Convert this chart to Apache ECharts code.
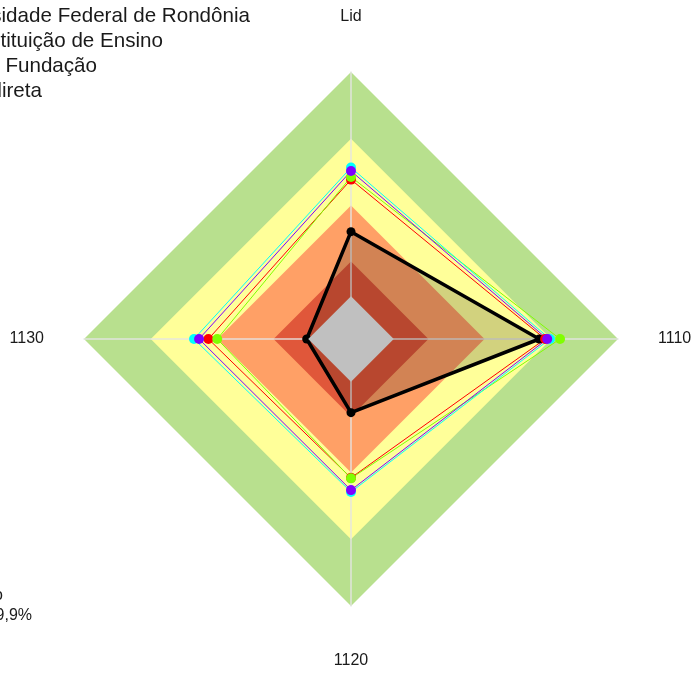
<!DOCTYPE html>
<html>
<head>
<meta charset="utf-8">
<script src="https://cdn.jsdelivr.net/npm/echarts@6/dist/echarts.min.js"></script>
<style>html,body{margin:0;padding:0;background:#fff;}#c{width:696px;height:673px;}</style>
</head>
<body>
<div id="c"></div>
<script>
// Indicators listed counterclockwise from the top (ECharts radar order)
const indicators = ['Lid', '1130', '1120', '1110'];
const axisMax = 100;

// Background bands (outer radius as % of max)
const bandLevels = [100, 75, 50, 29];
const bandColors = ['#B8E08E', '#FFFF99', '#FFA066', '#E0573A'];
const centerLevel = 16;
const centerColor = '#C0C0C0';

// Series values, same order as indicators
const blackValues  = [40.2, 16.6, 27.6, 70.5];
const redValues    = [59.7, 53.4, 52.0, 72.7];
const greenValues  = [60.7, 50.1, 52.2, 78.3];
const cyanValues   = [64.2, 58.8, 57.3, 74.5];
const purpleValues = [62.9, 56.9, 56.6, 73.5];

const legendLines = ['Universidade Federal de Rondônia', 'Outra Instituição de Ensino', 'Outra Fundação', 'Administração Indireta'];
const footLines = ['Desempenho', 'Total: 99,9%'];

const chart = echarts.init(document.getElementById('c'), null, {renderer: 'canvas'});

function levelRow(v) { return indicators.map(() => v); }

const colored = [
  {name: 'red', color: '#FF0000', values: redValues},
  {name: 'green', color: '#80FF00', values: greenValues},
  {name: 'cyan', color: '#00FFFF', values: cyanValues},
  {name: 'purple', color: '#8000FF', values: purpleValues}
];

const FONT = 'Liberation Sans, Arial, sans-serif';

const series = [
  {
    type: 'radar', z: 0, silent: true, symbol: 'none',
    data: bandLevels.map((v, i) => ({
      value: levelRow(v),
      lineStyle: {width: 0, opacity: 0},
      areaStyle: {color: bandColors[i], opacity: 1}
    }))
  },
  {
    type: 'radar', z: 2, silent: true,
    data: [{
      value: blackValues,
      symbol: 'circle', symbolSize: 9,
      itemStyle: {color: '#000'},
      lineStyle: {color: '#000', width: 3.5},
      areaStyle: {color: 'rgba(0,0,0,0.25)'}
    }]
  }
].concat(colored.map(s => ({
  type: 'radar', z: 2, silent: true,
  data: [{
    value: s.values,
    symbol: 'circle', symbolSize: 10,
    itemStyle: {color: s.color},
    lineStyle: {color: s.color, width: 1}
  }]
}))).concat([{
  type: 'radar', z: 3, silent: true, symbol: 'none',
  data: [{
    value: levelRow(centerLevel),
    lineStyle: {width: 0, opacity: 0},
    areaStyle: {color: centerColor, opacity: 1}
  }]
}]);

const option = {
  animation: false,
  backgroundColor: '#fff',
  radar: {
    center: [351, 339],
    radius: 267,
    startAngle: 90,
    shape: 'polygon',
    splitNumber: 4,
    z: 1,
    indicator: indicators.map(n => ({name: n, min: 0, max: axisMax})),
    nameGap: 40,
    axisName: {color: '#1a1a1a', fontSize: 16, fontFamily: FONT, padding: [7, 0, 7, 0]},
    axisLine: {lineStyle: {color: 'rgba(228,228,228,0.9)', width: 1.5}},
    axisTick: {show: false},
    splitLine: {show: false},
    splitArea: {show: false}
  },
  graphic: legendLines.map((t, i) => ({
    type: 'text',
    x: [250, 163, 97, 42][i], y: 16 + i * 25,
    style: {text: t, textAlign: 'right', textVerticalAlign: 'middle', fill: '#1a1a1a', fontSize: 20.6, fontFamily: FONT}
  })).concat(footLines.map((t, i) => ({
    type: 'text',
    x: [3, 32][i], y: [596, 616][i],
    style: {text: t, textAlign: 'right', textVerticalAlign: 'middle', fill: '#1a1a1a', fontSize: 16, fontFamily: FONT}
  }))),
  series: series
};
chart.setOption(option);
</script>
</body>
</html>
